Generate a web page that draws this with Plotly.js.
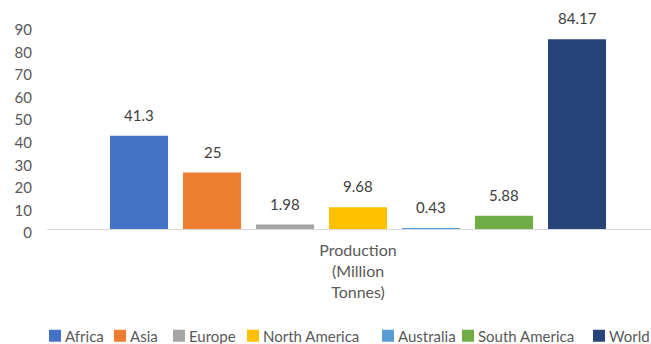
<!DOCTYPE html>
<html><head><meta charset="utf-8">
<script src="https://cdn.plot.ly/plotly-3.0.1.min.js"></script>
<style>html,body{margin:0;padding:0;background:#fff}#chart{width:651px;height:344px}</style>
</head><body><div id="chart"></div>
<script>
// ---- data ----
const category = 'Production<br>(Million<br>Tonnes)';
const regions = ['Africa', 'Asia', 'Europe', 'North America', 'Australia', 'South America', 'World'];
const production = [41.3, 25, 1.98, 9.68, 0.43, 5.88, 84.17];
const valueLabels = ['41.3', '25', '1.98', '9.68', '0.43', '5.88', '84.17'];
const yTicks = [0, 10, 20, 30, 40, 50, 60, 70, 80, 90];

// ---- style ----
const colors = ['#4472C4', '#ED7D31', '#A5A5A5', '#FFC000', '#5B9BD5', '#70AD47', '#264478'];
const legendLeftPx = [35, 100, 159, 233, 368, 448, 579];
const LEGEND_TEXT_X = 30;
const W = 651, H = 344, M = {l: 47, r: 0, t: 26, b: 115, autoexpand: false};
const bargap = 0.1785, bargroupgap = 0.205;
const FONT = 'Lato, "Open Sans", sans-serif';
const TXT = '#595959';

const legendKey = i => (i === 0 ? 'legend' : 'legend' + (i + 1));

const traces = regions.map((name, i) => ({
  type: 'bar', name: name,
  x: [category], y: [production[i]],
  marker: {color: colors[i]},
  legend: legendKey(i),
  hoverinfo: 'none'
}));

const groupW = 1 - bargap, slot = groupW / regions.length;
const annotations = regions.map((_, i) => ({
  x: -groupW / 2 + (i + 0.5) * slot, xref: 'x',
  y: production[i], yref: 'y',
  text: valueLabels[i], showarrow: false,
  yanchor: 'bottom', yshift: 10,
  font: {family: FONT, size: 15, color: '#404040'}
}));

const plotW = W - M.l - M.r, plotH = H - M.t - M.b;
const layout = {
  width: W, height: H, margin: M,
  paper_bgcolor: '#fff', plot_bgcolor: '#fff',
  barmode: 'group', bargap: bargap, bargroupgap: bargroupgap,
  font: {family: FONT, size: 15, color: TXT},
  xaxis: {type: 'category', range: [-0.5, 0.471], showline: true, linecolor: '#D9D9D9', linewidth: 1,
          ticks: '', ticklabelstandoff: 7, tickfont: {family: FONT, size: 16, color: TXT}, fixedrange: true},
  yaxis: {range: [0, 90], tickvals: yTicks, showgrid: false, zeroline: false, showline: false, ticks: '',
          ticklabelstandoff: 14, ticklabelshift: 4, tickfont: {family: FONT, size: 15, color: TXT}, fixedrange: true},
  annotations: annotations,
  showlegend: true
};
regions.forEach((_, i) => {
  layout[legendKey(i)] = {
    orientation: 'h', x: (legendLeftPx[i] - M.l) / plotW, xanchor: 'left',
    y: (M.t + plotH - 336) / plotH, yanchor: 'middle',
    font: {family: FONT, size: 15, color: TXT}, bgcolor: 'rgba(0,0,0,0)', borderwidth: 0
  };
});

const gdEl = document.getElementById('chart');
const legendTextSelector = regions.map((_, i) => 'text.' + legendKey(i) + 'text').join(',');
// pull legend labels closer to their colour squares, as in the reference
function tightenLegend() {
  gdEl.querySelectorAll(legendTextSelector).forEach(t => {
    if (t.getAttribute('x') !== String(LEGEND_TEXT_X)) t.setAttribute('x', LEGEND_TEXT_X);
    t.querySelectorAll('tspan[x]').forEach(s => {
      if (s.getAttribute('x') !== String(LEGEND_TEXT_X)) s.setAttribute('x', LEGEND_TEXT_X);
    });
  });
}
new MutationObserver(tightenLegend).observe(gdEl, {subtree: true, childList: true, attributes: true, attributeFilter: ['x']});

Plotly.newPlot(gdEl, traces, layout, {displayModeBar: false, staticPlot: true}).then(gd => {
  tightenLegend();
  gd.on('plotly_afterplot', tightenLegend);
  [0, 50, 200, 500].forEach(ms => setTimeout(tightenLegend, ms));
});
</script>
</body></html>
